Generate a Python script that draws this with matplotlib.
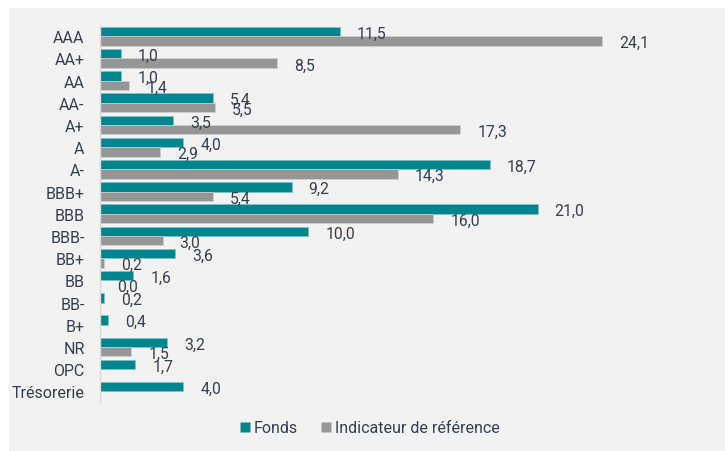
import matplotlib.pyplot as plt
import numpy as np
from matplotlib.lines import Line2D
from matplotlib.patches import Rectangle

plt.rcParams['font.family'] = ['Roboto', 'DejaVu Sans']

# data
categories = ['AAA', 'AA+', 'AA', 'AA-', 'A+', 'A', 'A-', 'BBB+', 'BBB', 'BBB-',
              'BB+', 'BB', 'BB-', 'B+', 'NR', 'OPC', 'Trésorerie']
fonds = [11.5, 1.0, 1.0, 5.4, 3.5, 4.0, 18.7, 9.2, 21.0, 10.0,
         3.6, 1.6, 0.2, 0.4, 3.2, 1.7, 4.0]
indice = [24.1, 8.5, 1.4, 5.5, 17.3, 2.9, 14.3, 5.4, 16.0, 3.0,
          0.2, 0.0, None, None, 1.5, None, None]
series_names = ['Fonds', 'Indicateur de référence']

teal = '#01858f'
grey = '#969696'
txt = '#34404f'
bg = '#f2f2f2'

fig = plt.figure(figsize=(7.25, 4.52), dpi=100)
fig.patch.set_facecolor('white')
fig.patches.append(Rectangle((9 / 725, 0), 1, 443 / 452, transform=fig.transFigure,
                             facecolor=bg, edgecolor='none', zorder=-10))

ax = fig.add_axes([100 / 725, 0.1075, 625 / 725, 0.8345])
ax.set_facecolor(bg)
ax.patch.set_alpha(0)

y = np.arange(len(categories))
h = 0.425

def fmt(v):
    return ('%.1f' % v).replace('.', ',')

for i, v in enumerate(fonds):
    ax.barh(y[i] - h / 2, v, height=h, color=teal, edgecolor='#7fc3c8', linewidth=0.5)
    ax.annotate(fmt(v), (v, y[i] - h / 2), xytext=(12.3, -1.2), textcoords='offset points',
                ha='left', va='center', fontsize=11.3, color=txt)

for i, v in enumerate(indice):
    if v is None:
        continue
    ax.barh(y[i] + h / 2, v, height=h, color=grey, edgecolor='#d0d0d0', linewidth=0.5)
    ax.annotate(fmt(v), (v, y[i] + h / 2), xytext=(12.3, -1.2), textcoords='offset points',
                ha='left', va='center', fontsize=11.3, color=txt)

ax.set_xlim(0, 30)
ax.set_ylim(16.5, -0.5)
ax.set_yticks(y)
ax.set_yticklabels(categories, fontsize=11.5, color=txt)
ax.tick_params(axis='y', length=0, pad=11)
ax.set_xticks([])
for s in ['top', 'right', 'bottom']:
    ax.spines[s].set_visible(False)
ax.spines['left'].set_color('#d9d9d9')
ax.spines['left'].set_linewidth(1)

handles = [Line2D([], [], marker='s', linestyle='none', markersize=6.5,
                  markerfacecolor=teal, markeredgecolor='none'),
           Line2D([], [], marker='s', linestyle='none', markersize=6.5,
                  markerfacecolor=grey, markeredgecolor='none')]
fig.legend(handles, series_names, loc='center', bbox_to_anchor=(370 / 725, 1 - 429 / 452),
           ncol=2, frameon=False, fontsize=11.5, labelcolor=txt,
           handlelength=0.6, handletextpad=0.25, columnspacing=1.5)

fig.savefig('out.png', dpi=100)
